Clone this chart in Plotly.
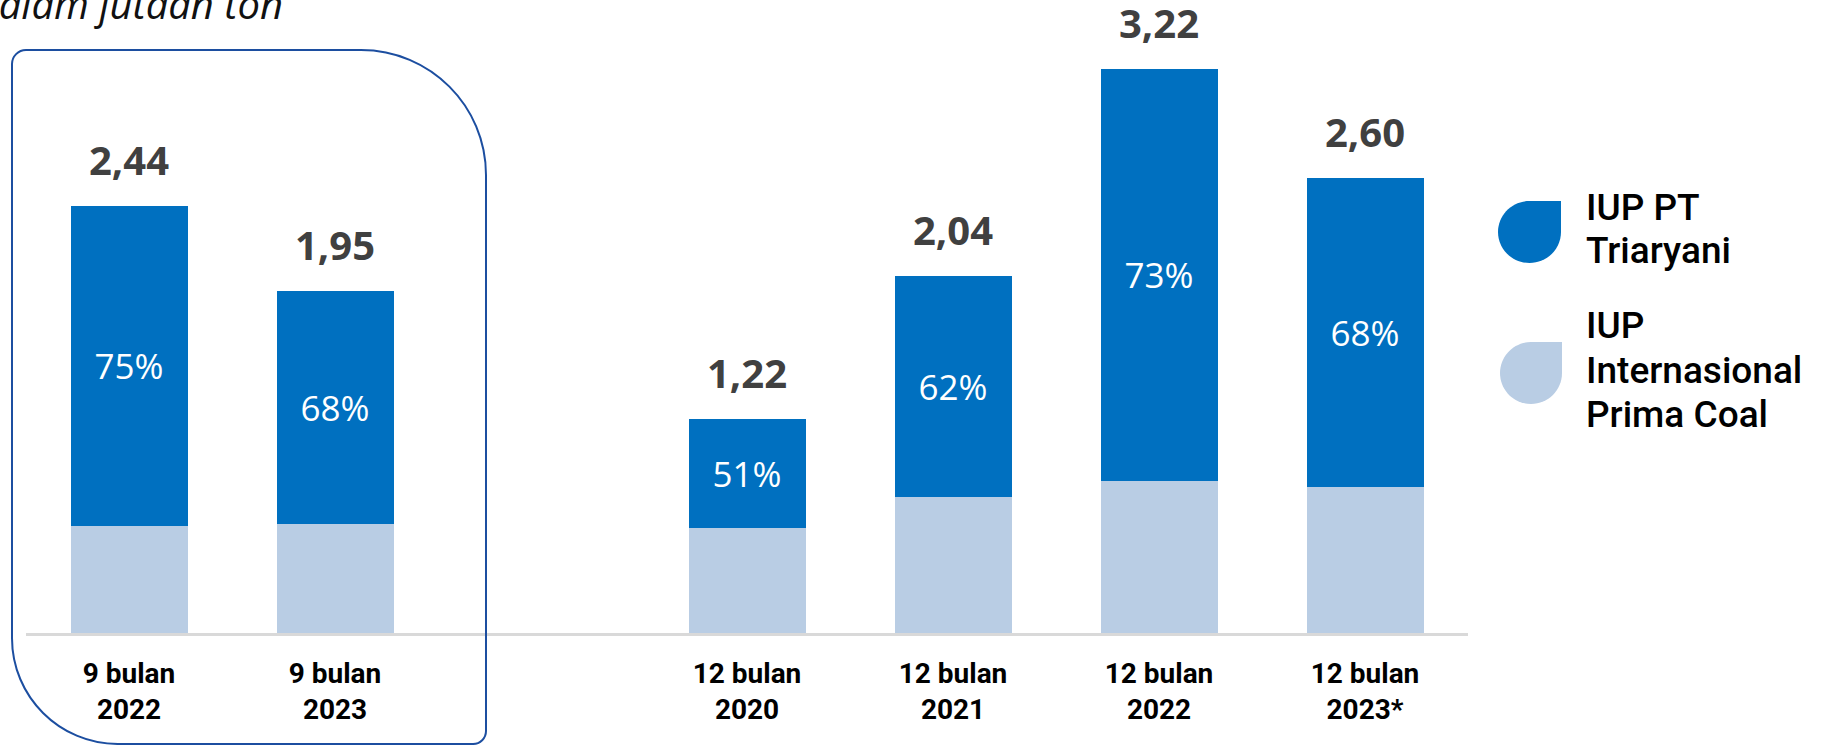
import plotly.graph_objects as go

# ---------------- data ----------------
categories = ["9 bulan<br>2022", "9 bulan<br>2023", "12 bulan<br>2020",
              "12 bulan<br>2021", "12 bulan<br>2022", "12 bulan<br>2023*"]
positions = [0, 1, 3, 4, 5, 6]
totals = [2.44, 1.95, 1.22, 2.04, 3.22, 2.60]
total_labels = ["2,44", "1,95", "1,22", "2,04", "3,22", "2,60"]
triaryani_share = [0.75, 0.68, 0.51, 0.62, 0.73, 0.68]
share_labels = ["75%", "68%", "51%", "62%", "73%", "68%"]
series_names = ["IUP PT Triaryani", "IUP Internasional Prima Coal"]
legend_lines = [["IUP PT", "Triaryani"], ["IUP", "Internasional", "Prima Coal"]]
title_text = "Dalam jutaan ton"

triaryani = [t * s for t, s in zip(totals, triaryani_share)]
prima = [t - d for t, d in zip(totals, triaryani)]

DARK = "#0070C0"
LIGHT = "#B9CDE4"
BOX = "#1C4EA0"

# ---------------- geometry helpers (pixel -> paper) ----------------
FW, FH = 1821, 745
ML, MR, MT, MB = 26, 353, 20, 112
PW = FW - ML - MR
PH = FH - MT - MB


def X(px):
    return (px - ML) / PW


def Y(py):
    return (FH - MB - py) / PH


K = 0.5523


def pt(p):
    return f"{X(p[0]):.5f},{Y(p[1]):.5f}"


def corner(p0, c, p3):
    p1 = (p0[0] + K * (c[0] - p0[0]), p0[1] + K * (c[1] - p0[1]))
    p2 = (p3[0] + K * (c[0] - p3[0]), p3[1] + K * (c[1] - p3[1]))
    return f" C {pt(p1)} {pt(p2)} {pt(p3)}"


def rounded_box(L, T, R, B, rtl, rtr, rbr, rbl):
    s = f"M {pt((L, T + rtl))}"
    s += corner((L, T + rtl), (L, T), (L + rtl, T))
    s += f" L {pt((R - rtr, T))}"
    s += corner((R - rtr, T), (R, T), (R, T + rtr))
    s += f" L {pt((R, B - rbr))}"
    s += corner((R, B - rbr), (R, B), (R - rbr, B))
    s += f" L {pt((L + rbl, B))}"
    s += corner((L + rbl, B), (L, B), (L, B - rbl))
    s += " Z"
    return s


def drop(L, T, R, B):
    cx, cy = (L + R) / 2, (T + B) / 2
    s = f"M {pt((R, T))} L {pt((R, cy))}"
    s += corner((R, cy), (R, B), (cx, B))
    s += corner((cx, B), (L, B), (L, cy))
    s += corner((L, cy), (L, T), (cx, T))
    s += " Z"
    return s


# ---------------- figure ----------------
fig = go.Figure()
fig.add_trace(go.Bar(
    x=positions, y=prima, name=series_names[1], marker=dict(color=LIGHT, line=dict(width=0)),
    width=0.568, hoverinfo="skip"))
fig.add_trace(go.Bar(
    x=positions, y=triaryani, name=series_names[0], marker=dict(color=DARK, line=dict(width=0)),
    width=0.568, text=share_labels, textposition="inside", insidetextanchor="middle",
    textfont=dict(family="Open Sans", size=35, color="white"), textangle=0,
    constraintext="none", hoverinfo="skip"))

annotations = []
for p, t, lab in zip(positions, totals, total_labels):
    annotations.append(dict(
        x=p, y=t, xref="x", yref="y", text=lab, showarrow=False,
        yanchor="bottom", yshift=17,
        font=dict(family="Open Sans", size=40, color="#404040", weight="bold")))

# title (partly clipped at top-left, as in the original)
annotations.append(dict(
    x=X(-30), y=Y(4), xref="paper", yref="paper", text=title_text, showarrow=False,
    xanchor="left", yanchor="middle",
    font=dict(family="Open Sans", size=40, color="#111111", style="italic")))

# legend text
legend_baselines = [[220, 263], [338, 383, 427]]
LFS = 37
for lines, bases in zip(legend_lines, legend_baselines):
    for ln, b in zip(lines, bases):
        annotations.append(dict(
            x=X(1584), y=Y(b - 0.33 * LFS), xref="paper", yref="paper", text=ln,
            showarrow=False, xanchor="left", yanchor="middle",
            font=dict(family="Roboto", size=LFS, color="#000000", weight=500)))

shapes = [
    dict(type="path", xref="paper", yref="paper",
         path=rounded_box(12, 50, 486, 744, 14, 125, 13, 106),
         line=dict(color=BOX, width=2), fillcolor="rgba(0,0,0,0)", layer="above"),
    dict(type="path", xref="paper", yref="paper", path=drop(1498, 201, 1561, 263),
         line=dict(width=0), fillcolor=DARK),
    dict(type="path", xref="paper", yref="paper", path=drop(1500, 342, 1562, 404),
         line=dict(width=0), fillcolor=LIGHT),
]

fig.update_layout(
    width=FW, height=FH, autosize=False,
    margin=dict(l=ML, r=MR, t=MT, b=MB, pad=0),
    paper_bgcolor="white", plot_bgcolor="white",
    barmode="stack", showlegend=False,
    annotations=annotations, shapes=shapes,
    xaxis=dict(range=[-0.5, 6.5], tickmode="array", tickvals=positions, ticktext=categories,
               showline=True, linecolor="#D9D9D9", linewidth=3, ticks="",
               showgrid=False, zeroline=False, fixedrange=True,
               tickfont=dict(family="Roboto", size=28, color="#000000", weight="bold"),
               ticklabelstandoff=13),
    yaxis=dict(range=[0, 3.5], visible=False, fixedrange=True),
)

fig.write_html(
    "out.html",
    config={"displayModeBar": False},
    post_script="document.body.style.margin='0';document.body.style.overflow='hidden';",
)
